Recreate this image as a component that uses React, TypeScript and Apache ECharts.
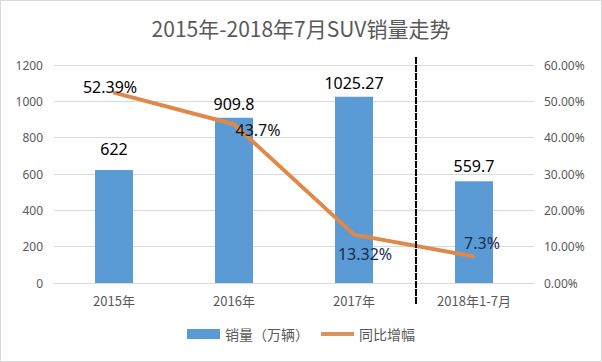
import React, { useEffect, useRef } from "react";
import * as echarts from "echarts";

const categories = ["2015年", "2016年", "2017年", "2018年1-7月"];
const sales = [622, 909.8, 1025.27, 559.7];
const growth = [0.5239, 0.437, 0.1332, 0.073];
const growthLabels = ["52.39%", "43.7%", "13.32%", "7.3%"];
const salesTicks = { min: 0, max: 1200, interval: 200 };
const growthTicks = { min: 0, max: 0.6, interval: 0.1 };

// label styling (offsets in px, not data)
const barLabelDistance = [13, 6, 6, 7];
const lineLabelOffsets: [number, number][] = [[-4, -6], [24, 6], [11, 19], [8, -13]];
const lineLabelColors = ["#000000", "#111111", "#1a2a4e", "#1a2a4e"];

const CJK = '"Noto Sans CJK SC", "Noto Sans", sans-serif';
const NUM = '"Noto Sans", "Liberation Sans", sans-serif';

export default function App() {
  const ref = useRef<HTMLDivElement>(null);
  useEffect(() => {
    if (!ref.current) return;
    const chart = echarts.init(ref.current, undefined, { renderer: "svg" });
    chart.setOption({
      animation: false,
      backgroundColor: "#ffffff",
      title: {
        text: "2015年-2018年7月SUV销量走势",
        left: "center",
        top: 12,
        textStyle: { fontFamily: CJK, fontSize: 21, fontWeight: "normal", color: "#595959" },
      },
      grid: { left: 54, right: 68, top: 65, bottom: 79 },
      legend: {
        bottom: 16,
        left: "center",
        itemWidth: 33,
        itemHeight: 10,
        itemGap: 10,
        textStyle: { fontFamily: CJK, fontSize: 14, color: "#595959" },
        data: [
          { name: "销量（万辆）", icon: "rect" },
          {
            name: "同比增幅",
            itemStyle: { opacity: 0 },
            lineStyle: { width: 4, color: "#d9935f" },
          },
        ],
      },
      xAxis: {
        type: "category",
        data: categories,
        axisTick: { show: false },
        axisLine: { lineStyle: { color: "#d9d9d9" } },
        axisLabel: { fontFamily: CJK, fontSize: 13, color: "#595959", margin: 11 },
      },
      yAxis: [
        {
          type: "value",
          ...salesTicks,
          axisLine: { show: false },
          axisTick: { show: false },
          splitLine: { lineStyle: { color: "#d9d9d9" } },
          axisLabel: {
            fontFamily: NUM,
            fontSize: 12,
            color: "#595959",
            margin: 11,
            formatter: (v: number) => String(v),
          },
        },
        {
          type: "value",
          ...growthTicks,
          axisLine: { show: false },
          axisTick: { show: false },
          splitLine: { show: false },
          axisLabel: {
            fontFamily: NUM,
            fontSize: 12,
            color: "#595959",
            margin: 10,
            formatter: (v: number) => (v * 100).toFixed(2) + "%",
          },
        },
      ],
      series: [
        {
          name: "销量（万辆）",
          type: "bar",
          barWidth: 38,
          itemStyle: { color: "#5b9bd5" },
          data: sales.map((v, i) => ({
            value: v,
            label: { distance: barLabelDistance[i] },
          })),
          label: {
            show: true,
            position: "top",
            fontFamily: NUM,
            fontSize: 16,
            color: "#000000",
          },
        },
        {
          name: "同比增幅",
          type: "line",
          yAxisIndex: 1,
          symbol: "circle",
          symbolSize: 3,
          itemStyle: { color: "#e0874a" },
          lineStyle: { color: "#e0874a", width: 4 },
          z: 3,
          data: growth.map((v, i) => ({
            value: v,
            label: {
              offset: lineLabelOffsets[i],
              color: lineLabelColors[i],
              formatter: growthLabels[i],
            },
          })),
          label: {
            show: true,
            position: "inside",
            fontFamily: NUM,
            fontSize: 16,
          },
        },
      ],
      graphic: [
        {
          type: "rect",
          shape: { x: 0.5, y: 0.5, width: 601, height: 361 },
          style: { fill: "none", stroke: "#d9d9d9", lineWidth: 1 },
          silent: true,
        },
        {
          type: "line",
          shape: { x1: 416, y1: 57, x2: 416, y2: 305 },
          style: { stroke: "#000000", lineWidth: 2, lineDash: [7, 1] },
          z: 10,
        },
      ],
    });
    return () => chart.dispose();
  }, []);
  return (
    <div
      ref={ref}
      style={{ position: "absolute", left: 0, top: 0, width: 602, height: 362 }}
    />
  );
}
